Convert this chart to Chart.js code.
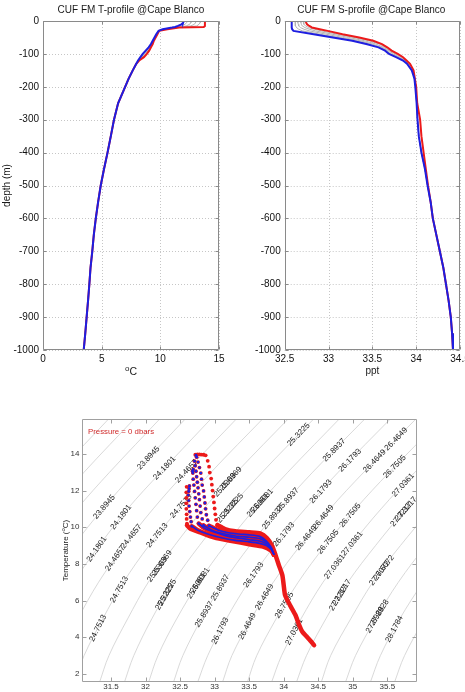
<!DOCTYPE html>
<html>
<head>
<meta charset="utf-8">
<title>CUF FM profiles @Cape Blanco</title>
<script src="https://cdn.jsdelivr.net/npm/chart.js@4.4.1/dist/chart.umd.min.js"></script>
<style>
  html, body { margin: 0; padding: 0; background: #fff; width: 465px; height: 692px; overflow: hidden; }
  canvas { position: absolute; }
</style>
</head>
<body>
<canvas id="cT" width="232" height="385" style="left:0;top:0"></canvas>
<canvas id="cS" width="260" height="385" style="left:232px;top:0"></canvas>
<canvas id="cTS" width="465" height="310" style="left:0;top:400px"></canvas>
<script>
// ---------- profile data ----------
const depthUpper = [0, -5, -10, -15, -18, -20, -25, -30, -40, -50, -60, -70, -80, -90, -100, -110, -120, -130, -150, -175, -200];
const depthDeep = [-250, -300, -350, -400, -450, -500, -550, -600, -650, -700, -750, -800, -850, -900, -950, -1000];

// temperature (deg C), first profile red, last blue, the ones between gray
const tempRed = [13.8, 13.8, 13.8, 13.8, 13.7, 11.6, 10.6, 9.9, 9.75, 9.6, 9.45, 9.35, 9.2, 9.05, 8.85, 8.6, 8.2, 7.95, 7.65, 7.3, 7.0];
const tempGray = [
  [13.4, 13.4, 13.3, 13.1, 12.5, 11.5, 10.5, 9.9, 9.72, 9.57, 9.42, 9.3, 9.15, 8.97, 8.75, 8.5, 8.17, 7.95, 7.65, 7.3, 7.0],
  [13.0, 13.0, 12.9, 12.6, 12.0, 11.3, 10.4, 9.88, 9.7, 9.55, 9.4, 9.27, 9.1, 8.9, 8.66, 8.42, 8.14, 7.95, 7.65, 7.3, 7.0],
  [12.6, 12.6, 12.5, 12.2, 11.7, 11.2, 10.3, 9.86, 9.68, 9.53, 9.38, 9.24, 9.05, 8.83, 8.6, 8.36, 8.12, 7.95, 7.65, 7.3, 7.0],
  [12.3, 12.25, 12.1, 11.8, 11.4, 11.1, 10.25, 9.85, 9.66, 9.51, 9.36, 9.22, 9.02, 8.78, 8.55, 8.32, 8.1, 7.95, 7.65, 7.3, 7.0]
];
const tempBlue = [12.0, 11.95, 11.8, 11.5, 11.25, 11.0, 10.2, 9.85, 9.65, 9.5, 9.35, 9.2, 9.0, 8.75, 8.5, 8.3, 8.1, 7.95, 7.65, 7.3, 7.0];
const tempDeep = [6.4, 6.05, 5.78, 5.5, 5.2, 4.92, 4.7, 4.5, 4.33, 4.2, 4.05, 3.95, 3.84, 3.72, 3.6, 3.47];

// salinity (ppt)
const salRed = [32.74, 32.745, 32.755, 32.78, 32.8, 32.81, 32.9, 32.99, 33.16, 33.35, 33.51, 33.61, 33.67, 33.72, 33.79, 33.85, 33.89, 33.93, 33.97, 33.985, 34.0];
const salGray = [
  [32.71, 32.715, 32.72, 32.74, 32.76, 32.77, 32.84, 32.92, 33.1, 33.29, 33.46, 33.58, 33.65, 33.70, 33.76, 33.83, 33.88, 33.92, 33.965, 33.983, 33.997],
  [32.68, 32.685, 32.69, 32.7, 32.72, 32.73, 32.78, 32.85, 33.04, 33.23, 33.41, 33.54, 33.63, 33.69, 33.74, 33.81, 33.87, 33.91, 33.96, 33.982, 33.995],
  [32.65, 32.65, 32.655, 32.66, 32.67, 32.68, 32.72, 32.78, 32.97, 33.16, 33.36, 33.5, 33.61, 33.675, 33.72, 33.8, 33.865, 33.905, 33.955, 33.981, 33.993],
  [32.62, 32.62, 32.62, 32.625, 32.63, 32.635, 32.66, 32.7, 32.9, 33.1, 33.31, 33.46, 33.59, 33.66, 33.705, 33.785, 33.86, 33.9, 33.952, 33.98, 33.991]
];
const salBlue = [32.58, 32.58, 32.58, 32.58, 32.58, 32.58, 32.585, 32.6, 32.83, 33.05, 33.27, 33.43, 33.57, 33.645, 33.69, 33.77, 33.85, 33.895, 33.95, 33.98, 33.99];
const salDeep = [34.005, 34.015, 34.03, 34.06, 34.10, 34.13, 34.165, 34.19, 34.23, 34.27, 34.31, 34.34, 34.37, 34.395, 34.41, 34.42];
const salDeepRed = [34.012, 34.045, 34.06, 34.085, 34.11, 34.135, 34.165, 34.19, 34.23, 34.27, 34.31, 34.34, 34.37, 34.395, 34.41, 34.42];

// T-S diagram: isopycnal contours (salinity where each level crosses contourT)
const contourT = [1.5, 3, 5, 7, 9, 11, 13, 16];
const contourText = ['23.0377', '23.3233', '23.6089', '23.8945', '24.1801', '24.4657', '24.7513', '25.0369', '25.3225', '25.6081', '25.8937',
  '26.1793', '26.4649', '26.7505', '27.0361', '27.3217', '27.6072', '27.8928', '28.1784', '28.4640', '28.7496'];
const contourS = [
  [28.84, 28.97, 29.22, 29.51, 29.87, 30.28, 30.74, 31.49],
  [29.19, 29.33, 29.58, 29.88, 30.23, 30.65, 31.11, 31.86],
  [29.55, 29.69, 29.94, 30.24, 30.60, 31.01, 31.48, 32.23],
  [29.91, 30.04, 30.30, 30.60, 30.96, 31.38, 31.85, 32.60],
  [30.26, 30.40, 30.66, 30.96, 31.33, 31.74, 32.22, 32.97],
  [30.62, 30.76, 31.02, 31.32, 31.69, 32.11, 32.58, 33.34],
  [30.97, 31.11, 31.38, 31.68, 32.05, 32.48, 32.95, 33.72],
  [31.33, 31.47, 31.74, 32.04, 32.42, 32.84, 33.32, 34.09],
  [31.69, 31.83, 32.09, 32.40, 32.78, 33.21, 33.69, 34.46],
  [32.04, 32.18, 32.45, 32.77, 33.15, 33.58, 34.06, 34.83],
  [32.40, 32.54, 32.81, 33.13, 33.51, 33.94, 34.42, 35.20],
  [32.75, 32.90, 33.17, 33.49, 33.87, 34.31, 34.79, 35.57],
  [33.11, 33.25, 33.53, 33.85, 34.24, 34.67, 35.16, 35.94],
  [33.47, 33.61, 33.89, 34.21, 34.60, 35.04, 35.53, 36.31],
  [33.82, 33.97, 34.25, 34.57, 34.97, 35.41, 35.90, 36.70],
  [34.18, 34.33, 34.61, 34.93, 35.33, 35.77, 36.27, 37.08],
  [34.54, 34.68, 34.97, 35.29, 35.69, 36.14, 36.64, 37.45],
  [34.89, 35.04, 35.33, 35.66, 36.06, 36.51, 37.01, 37.83],
  [35.25, 35.40, 35.68, 36.02, 36.42, 36.88, 37.38, 38.20],
  [35.60, 35.75, 36.04, 36.38, 36.79, 37.25, 37.75, 38.60],
  [35.96, 36.11, 36.40, 36.74, 37.15, 37.62, 38.12, 38.97]
];
// inline contour labels: level index and temperature where the label sits
const labelLevel = [3, 4, 5, 3, 4, 6, 4, 5, 5, 6, 7, 7, 6, 8, 8, 9, 9, 10, 10, 6, 11, 12, 12, 7, 7, 8, 8, 11,
  8, 10, 11, 12, 12, 13, 14, 15, 15, 9, 9, 10, 10, 11, 11, 12, 12, 13, 13, 14, 14, 16, 16, 15, 15, 17, 17, 18, 13, 14];
const labelT = [13.77, 13.22, 13.05, 11.1, 10.55, 11.15, 8.8, 8.3, 9.5, 9.55, 7.7, 8.05, 6.6, 6.2, 6.45, 6.8, 7.1, 5.25, 6.7, 4.5, 4.35, 4.6, 6.2, 12.3, 12.65, 10.9, 11.2, 7.4,
  15.05, 14.2, 13.65, 13.6, 14.8, 13.3, 12.3, 10.7, 11.0, 11.2, 11.45, 10.55, 11.5, 11.95, 9.6, 9.4, 10.55, 10.65, 9.2, 7.85, 9.1, 7.5, 7.8, 6.15, 6.45, 4.95, 5.35, 4.45, 5.75, 4.3];

// T-S profiles: sparse dots near the surface, then the dense thermocline band
const tsIsRed = [true, false, false, false, false, true];
const tsDotS = [
  [32.72, 32.75, 32.78, 32.81, 32.84, 32.87, 32.9, 32.92, 32.93, 32.95, 32.96, 32.97, 32.98, 32.99, 33.0, 33.01, 33.02, 33.04],
  [32.73, 32.74, 32.76, 32.78, 32.8, 32.81, 32.82, 32.84, 32.85, 32.86, 32.87, 32.88, 32.9, 32.92],
  [32.71, 32.72, 32.73, 32.74, 32.75, 32.76, 32.77, 32.78, 32.79, 32.8, 32.82, 32.84],
  [32.69, 32.68, 32.685, 32.69, 32.7, 32.71, 32.72, 32.73, 32.74, 32.75, 32.77],
  [32.635, 32.63, 32.625, 32.62, 32.625, 32.63, 32.64, 32.65, 32.66, 32.67],
  [32.595, 32.59, 32.59, 32.59, 32.59, 32.595, 32.595, 32.6]
];
const tsDotT = [
  [13.95, 13.97, 13.97, 13.96, 13.95, 13.92, 13.62, 13.3, 12.98, 12.65, 12.32, 12.0, 11.67, 11.35, 11.02, 10.7, 10.4, 10.12],
  [13.93, 13.82, 13.55, 13.25, 12.95, 12.62, 12.3, 11.98, 11.65, 11.32, 11.0, 10.68, 10.38, 10.08],
  [13.6, 13.35, 13.05, 12.75, 12.45, 12.15, 11.82, 11.5, 11.15, 10.8, 10.45, 10.1],
  [13.15, 13.05, 12.95, 12.62, 12.3, 11.95, 11.6, 11.25, 10.9, 10.55, 10.2],
  [12.25, 12.1, 11.95, 11.75, 11.45, 11.15, 10.85, 10.55, 10.3, 10.05],
  [12.2, 11.9, 11.6, 11.3, 11.0, 10.7, 10.45, 10.2]
];
const tsBandS = [
  [33.04, 33.15, 33.3, 33.5, 33.66, 33.76, 33.83, 33.88, 33.93, 33.98, 34.0, 34.02, 34.09, 34.17, 34.22, 34.27, 34.33, 34.39, 34.44],
  [32.92, 33.05, 33.2, 33.35, 33.5, 33.65, 33.75, 33.82, 33.86],
  [32.84, 32.95, 33.1, 33.3, 33.5, 33.65, 33.75, 33.82, 33.86],
  [32.77, 32.85, 33.0, 33.2, 33.5, 33.65, 33.75, 33.82, 33.86],
  [32.67, 32.75, 32.9, 33.1, 33.3, 33.5, 33.65, 33.75, 33.82, 33.86],
  [32.6, 32.65, 32.8, 33.0, 33.25, 33.5, 33.7, 33.82, 33.86]
];
const tsBandT = [
  [10.12, 9.9, 9.78, 9.72, 9.66, 9.4, 9.0, 8.5, 7.93, 7.39, 6.85, 6.3, 5.76, 5.21, 4.7, 4.3, 4.05, 3.8, 3.57],
  [10.08, 9.85, 9.7, 9.63, 9.58, 9.5, 9.25, 8.9, 8.5],
  [10.1, 9.85, 9.67, 9.52, 9.45, 9.38, 9.18, 8.86, 8.5],
  [10.2, 9.95, 9.72, 9.5, 9.32, 9.25, 9.1, 8.82, 8.5],
  [10.05, 9.85, 9.63, 9.42, 9.28, 9.2, 9.12, 9.0, 8.78, 8.5],
  [10.1, 9.92, 9.7, 9.43, 9.25, 9.07, 8.95, 8.72, 8.5]
];

// ---------- helpers ----------
const FONT = '"Liberation Sans", Arial, Helvetica, sans-serif';
const RED = '#ec1a1a';
const BLUE = '#1e1ee0';
const GRAY = '#b4b4b4';

function pts(xs, ys) {
  return xs.map((v, i) => ({ x: v, y: ys[i] }));
}

function lineSet(data, color, width, order) {
  return { data, showLine: true, borderColor: color, borderWidth: width, pointRadius: 0, tension: 0, order };
}

// draw text runs (for the raised "o" in oC) centred on 0,0
function drawRuns(ctx, runs) {
  let total = 0;
  runs.forEach(r => { ctx.font = r.size + 'px ' + FONT; r.w = ctx.measureText(r.text).width; total += r.w; });
  let x = -total / 2;
  ctx.textAlign = 'left';
  ctx.textBaseline = 'middle';
  runs.forEach(r => {
    ctx.font = r.size + 'px ' + FONT;
    ctx.fillText(r.text, x, r.dy || 0);
    x += r.w;
  });
}

// gridlines, box and inward tick marks like the matlab axes
const matlabAxes = {
  id: 'matlabAxes',
  beforeDatasetsDraw(chart, args, opts) {
    if (!opts.grid) return;
    const { ctx, chartArea: a, scales: { x, y } } = chart;
    ctx.save();
    ctx.strokeStyle = '#c6c6c6';
    ctx.lineWidth = 1;
    ctx.setLineDash([1, 2]);
    ctx.beginPath();
    x.ticks.forEach(t => {
      const p = Math.round(x.getPixelForValue(t.value)) + 0.5;
      ctx.moveTo(p, a.top); ctx.lineTo(p, a.bottom);
    });
    y.ticks.forEach(t => {
      const p = Math.round(y.getPixelForValue(t.value)) + 0.5;
      ctx.moveTo(a.left, p); ctx.lineTo(a.right, p);
    });
    ctx.stroke();
    ctx.restore();
  },
  afterDatasetsDraw(chart, args, opts) {
    const { ctx, chartArea: a, scales: { x, y } } = chart;
    const L = Math.round(a.left) + 0.5, R = Math.round(a.right) - 0.5;
    const T = Math.round(a.top) + 0.5, B = Math.round(a.bottom) - 0.5;
    const len = opts.tick;
    ctx.save();
    ctx.strokeStyle = opts.frame;
    ctx.lineWidth = 1;
    ctx.beginPath();
    x.ticks.forEach(t => {
      const p = Math.round(x.getPixelForValue(t.value)) + 0.5;
      ctx.moveTo(p, B); ctx.lineTo(p, B - len);
      ctx.moveTo(p, T); ctx.lineTo(p, T + len);
    });
    y.ticks.forEach(t => {
      const p = Math.round(y.getPixelForValue(t.value)) + 0.5;
      ctx.moveTo(L, p); ctx.lineTo(L + len, p);
      ctx.moveTo(R, p); ctx.lineTo(R - len, p);
    });
    ctx.rect(L, T, R - L, B - T);
    ctx.stroke();
    ctx.restore();
  }
};

function tickOpts(size, step, pad, color) {
  return {
    stepSize: step, padding: pad, includeBounds: false, autoSkip: false, maxRotation: 0,
    color, font: { family: FONT, size },
    callback: v => String(v)
  };
}

function axis(min, max, size, step, pad, fit, color) {
  return {
    type: 'linear', min, max, afterFit: fit,
    grid: { display: false, drawTicks: false }, border: { display: false },
    ticks: tickOpts(size, step, pad, color || '#111')
  };
}

// ---------- T-profile ----------
const depthAll = depthUpper.concat(depthDeep);
const tempSets = tempGray.map(g => lineSet(pts(g.concat(tempDeep), depthAll), GRAY, 1, 3));
tempSets.push(lineSet(pts(tempRed.concat(tempDeep), depthAll), RED, 2, 2));
tempSets.push(lineSet(pts(tempBlue.concat(tempDeep), depthAll), BLUE, 2, 1));

new Chart(document.getElementById('cT'), {
  type: 'scatter',
  data: { datasets: tempSets },
  options: {
    responsive: false, animation: false, events: [],
    layout: { padding: { left: 0, right: 13, top: 21, bottom: 0 } },
    plugins: { legend: { display: false }, tooltip: { enabled: false }, matlabAxes: { grid: true, frame: '#8a8a8a', tick: 3 } },
    scales: {
      x: axis(0, 15, 10, 5, 3, s => { s.height = 35; }),
      y: axis(-1000, 0, 10, 100, 4, s => { s.width = 43; })
    }
  },
  plugins: [matlabAxes, {
    id: 'textT',
    afterDraw(chart) {
      const { ctx, chartArea: a } = chart;
      const cx = (a.left + a.right) / 2;
      ctx.save();
      ctx.fillStyle = '#1a1a1a';
      ctx.translate(cx, 10.5);
      drawRuns(ctx, [{ text: 'CUF FM T-profile @Cape Blanco', size: 10 }]);
      ctx.setTransform(1, 0, 0, 1, 0, 0);
      ctx.translate(cx, 372.5);
      drawRuns(ctx, [{ text: 'o', size: 8, dy: -3.5 }, { text: 'C', size: 10.5 }]);
      ctx.setTransform(1, 0, 0, 1, 0, 0);
      ctx.translate(7, (a.top + a.bottom) / 2);
      ctx.rotate(-Math.PI / 2);
      drawRuns(ctx, [{ text: 'depth (m)', size: 10 }]);
      ctx.restore();
    }
  }]
});

// ---------- S-profile ----------
const salSets = salGray.map(g => lineSet(pts(g.concat(salDeep), depthAll), GRAY, 1, 3));
salSets.push(lineSet(pts(salRed.concat(salDeepRed), depthAll), RED, 2, 2));
salSets.push(lineSet(pts(salBlue.concat(salDeep), depthAll), BLUE, 2, 1));

new Chart(document.getElementById('cS'), {
  type: 'scatter',
  data: { datasets: salSets },
  options: {
    responsive: false, animation: false, events: [],
    layout: { padding: { left: 0, right: 32, top: 21, bottom: 0 } },
    plugins: { legend: { display: false }, tooltip: { enabled: false }, matlabAxes: { grid: true, frame: '#8a8a8a', tick: 3 } },
    scales: {
      x: axis(32.5, 34.5, 10, 0.5, 3, s => { s.height = 35; }),
      y: axis(-1000, 0, 10, 100, 4, s => { s.width = 52.7; })
    }
  },
  plugins: [matlabAxes, {
    id: 'textS',
    afterDraw(chart) {
      const { ctx, chartArea: a } = chart;
      const cx = (a.left + a.right) / 2;
      ctx.save();
      ctx.fillStyle = '#1a1a1a';
      ctx.translate(cx - 1, 10.5);
      drawRuns(ctx, [{ text: 'CUF FM S-profile @Cape Blanco', size: 10 }]);
      ctx.setTransform(1, 0, 0, 1, 0, 0);
      ctx.translate(cx, 371);
      drawRuns(ctx, [{ text: 'ppt', size: 10 }]);
      ctx.restore();
    }
  }]
});

// ---------- T-S diagram ----------
function contourSAt(level, t) {
  const row = contourS[level];
  const tt = Math.max(contourT[0], Math.min(contourT[contourT.length - 1], t));
  for (let i = 0; i < contourT.length - 1; i++) {
    if (tt >= contourT[i] && tt <= contourT[i + 1]) {
      const f = (tt - contourT[i]) / (contourT[i + 1] - contourT[i]);
      return row[i] + f * (row[i + 1] - row[i]);
    }
  }
  return row[row.length - 1];
}

const tsSets = contourS.map(row => ({
  data: pts(row, contourT), showLine: true, borderColor: '#cfcfcf', borderWidth: 0.8,
  pointRadius: 0, tension: 0.35, order: 100
}));
tsDotS.forEach((s, k) => {
  // red underlay for every profile
  tsSets.push({ data: pts(s, tsDotT[k]), showLine: false, pointRadius: 1.9, pointBorderWidth: 0, pointBackgroundColor: RED, order: 50 });
  tsSets.push({ data: pts(tsBandS[k], tsBandT[k]), showLine: true, borderColor: RED, borderWidth: 4.5, borderJoinStyle: 'round', borderCapStyle: 'round', pointRadius: 0, tension: 0.2, order: 50 });
  if (!tsIsRed[k]) {
    tsSets.push({ data: pts(s, tsDotT[k]), showLine: false, pointRadius: 1.4, pointBorderWidth: 0, pointBackgroundColor: BLUE, order: 10 });
    tsSets.push({ data: pts(tsBandS[k], tsBandT[k]), showLine: true, borderColor: BLUE, borderWidth: 1.6, pointRadius: 0, tension: 0.2, order: 10 });
  }
});

new Chart(document.getElementById('cTS'), {
  type: 'scatter',
  data: { datasets: tsSets },
  options: {
    responsive: false, animation: false, events: [],
    layout: { padding: { left: 0, right: 48, top: 19, bottom: 0 } },
    plugins: { legend: { display: false }, tooltip: { enabled: false }, matlabAxes: { grid: false, frame: '#a0a0a0', tick: 4 } },
    scales: {
      x: axis(31.08, 35.93, 8, 0.5, 0, s => { s.height = 28; }, '#333'),
      y: axis(1.56, 15.9, 8, 2, 2.5, s => { s.width = 82; }, '#333')
    }
  },
  plugins: [matlabAxes, {
    id: 'contourLabels',
    afterDatasetDraw(chart, args) {
      if (args.index !== 0) return; // contour 0 is the last contour line drawn
      const { ctx, chartArea: a, scales: { x, y } } = chart;
      ctx.save();
      ctx.beginPath();
      ctx.rect(a.left, a.top, a.right - a.left, a.bottom - a.top);
      ctx.clip();
      ctx.fillStyle = '#1e1e1e';
      ctx.font = '8px ' + FONT;
      ctx.textAlign = 'center';
      ctx.textBaseline = 'middle';
      labelLevel.forEach((lv, i) => {
        const t = labelT[i];
        const px = x.getPixelForValue(contourSAt(lv, t)), py = y.getPixelForValue(t);
        const x1 = x.getPixelForValue(contourSAt(lv, t - 0.25)), y1 = y.getPixelForValue(t - 0.25);
        const x2 = x.getPixelForValue(contourSAt(lv, t + 0.25)), y2 = y.getPixelForValue(t + 0.25);
        ctx.setTransform(1, 0, 0, 1, 0, 0);
        ctx.translate(px, py);
        ctx.rotate(Math.atan2(y2 - y1, x2 - x1));
        ctx.fillText(contourText[lv], 0, 0);
      });
      ctx.restore();
    },
    afterDraw(chart) {
      const { ctx, chartArea: a } = chart;
      ctx.save();
      ctx.fillStyle = '#d02a2a';
      ctx.font = '7.8px ' + FONT;
      ctx.textAlign = 'left';
      ctx.textBaseline = 'middle';
      ctx.fillText('Pressure = 0 dbars', a.left + 6, a.top + 12.7);
      ctx.fillStyle = '#222';
      ctx.translate(66, (a.top + a.bottom) / 2);
      ctx.rotate(-Math.PI / 2);
      drawRuns(ctx, [{ text: 'Temperature (', size: 8 }, { text: 'o', size: 6, dy: -2.5 }, { text: 'C)', size: 8 }]);
      ctx.restore();
    }
  }]
});
</script>
</body>
</html>
